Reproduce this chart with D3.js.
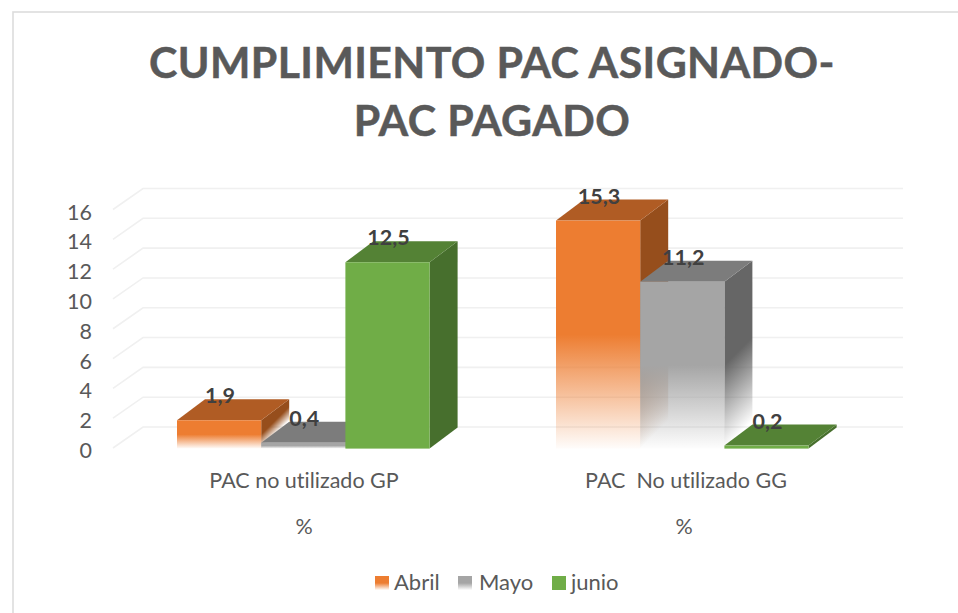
<!DOCTYPE html>
<html><head><meta charset="utf-8">
<script src="https://cdn.jsdelivr.net/npm/d3@7"></script>
<style>html,body{margin:0;padding:0;background:#fff}svg{display:block}text{font-family:Lato,"Open Sans",sans-serif;font-variant-ligatures:none}</style>
</head><body><svg id="c" width="958" height="613"></svg>
<script>
const titleLines = ["CUMPLIMIENTO PAC ASIGNADO-", "PAC PAGADO"];
const categories = ["PAC no utilizado GP", "PAC  No utilizado GG"];
const subLabels = ["%", "%"];
const seriesNames = ["Abril", "Mayo", "junio"];
const abril = [1.9, 15.3];
const mayo = [0.4, 11.2];
const junio = [12.5, 0.2];
const labels = [["1,9", "15,3"], ["0,4", "11,2"], ["12,5", "0,2"]];
const ticks = [0, 2, 4, 6, 8, 10, 12, 14, 16];
const colors = {front: ["#ed7d31", "#a5a5a5", "#70ad47"], top: ["#b05c24", "#7c7c7c", "#548235"], side: ["#964e1c", "#666666", "#476f2d"]};
const series = [abril, mayo, junio];

const dx = 28, dy = -21;
const svg = d3.select("#c");
const defs = svg.append("defs");
const y = d3.scaleLinear().domain([0, 16]).range([448.6, 210.1]);
const groupX = c => c === categories[0] ? 177 : 556;
const barW = 84.2;

svg.append("rect").attr("x", 13).attr("y", 12).attr("width", 990).attr("height", 640).attr("fill", "none").attr("stroke", "#dcdcdc").attr("stroke-width", 1.6);

colors.front.forEach((col, i) => {
  if (i === 2) return;
  const gf = defs.append("linearGradient").attr("id", "f" + i).attr("x1", 0).attr("y1", 0).attr("x2", 0).attr("y2", 1);
  gf.append("stop").attr("offset", "50%").attr("stop-color", col);
  gf.append("stop").attr("offset", "100%").attr("stop-color", col).attr("stop-opacity", 0.02);
});

// gridlines
const grid = svg.append("g");
ticks.forEach(t => {
  const py = y(t);
  grid.append("path").attr("d", d3.line()([[113, py - 0.6], [113 + 30, py - 0.6 + dy], [903, py - 0.6 + dy]]))
    .attr("fill", "none").attr("stroke", "#f0f0f0").attr("stroke-width", 1.6);
});
svg.append("g").selectAll("text").data(ticks).join("text")
  .attr("x", 92).attr("y", d => y(d) + 9.4).attr("text-anchor", "end")
  .attr("font-size", 21.5).attr("fill", "#595959").text(d => d);

// bars
const marks = svg.append("g");
categories.forEach((c, ci) => {
  series.forEach((vals, si) => {
    const x0 = groupX(c) + si * barW, x1 = x0 + barW, yb = y(0), yt = y(vals[ci]);
    const g = marks.append("g");
    const poly = pts => d3.line()(pts) + "Z";
    let sideFill = colors.side[si];
    if (si !== 2) {
      const id = `side${ci}${si}`, h = yb - yt, L = h * 0.5, ys = yt + h * 0.5;
      const gs = defs.append("linearGradient").attr("id", id).attr("gradientUnits", "userSpaceOnUse")
        .attr("x1", x1).attr("y1", ys).attr("x2", x1 + L / 2).attr("y2", ys + L / 2);
      gs.append("stop").attr("offset", "0%").attr("stop-color", colors.side[si]);
      gs.append("stop").attr("offset", "100%").attr("stop-color", colors.side[si]).attr("stop-opacity", 0);
      sideFill = `url(#${id})`;
    }
    g.append("path").attr("d", poly([[x1, yb], [x1, yt], [x1 + dx, yt + dy], [x1 + dx, yb + dy]])).attr("fill", sideFill);
    g.append("path").attr("d", poly([[x0, yt], [x1, yt], [x1 + dx, yt + dy], [x0 + dx, yt + dy]])).attr("fill", colors.top[si]);
    g.append("rect").attr("x", x0).attr("y", yt).attr("width", barW).attr("height", yb - yt)
      .attr("fill", si === 2 ? colors.front[2] : `url(#f${si})`);
  });
});

// data labels
categories.forEach((c, ci) => {
  series.forEach((vals, si) => {
    const x0 = groupX(c) + si * barW;
    svg.append("text").attr("x", x0 + barW / 2 + 1).attr("y", y(vals[ci]) + dy + 4)
      .attr("text-anchor", "middle").attr("font-size", 21.5).attr("font-weight", 700)
      .attr("fill", "#404040").text(labels[si][ci]);
  });
});

// category labels
const catX = [304, 686], subX = [304, 684];
categories.forEach((c, i) => {
  svg.append("text").attr("x", catX[i]).attr("y", 488).attr("text-anchor", "middle")
    .attr("font-size", 21.5).attr("fill", "#595959").style("white-space", "pre").text(c);
  svg.append("text").attr("x", subX[i]).attr("y", 534).attr("text-anchor", "middle")
    .attr("font-size", 21.5).attr("fill", "#595959").text(subLabels[i]);
});

// title
titleLines.forEach((t, i) => {
  svg.append("text").attr("x", 492).attr("y", 78 + i * 58).attr("text-anchor", "middle")
    .attr("font-size", 42.8).attr("font-weight", 700).attr("letter-spacing", 0.4)
    .attr("stroke", "#595959").attr("stroke-width", 0.5).attr("fill", "#595959").text(t);
});

// legend
const legX = [375, 458, 552], legTextX = [394, 479, 571];
seriesNames.forEach((n, i) => {
  svg.append("rect").attr("x", legX[i]).attr("y", 576).attr("width", 14).attr("height", 14)
    .attr("fill", i === 2 ? colors.front[2] : `url(#f${i})`);
  svg.append("text").attr("x", legTextX[i]).attr("y", 590).attr("font-size", 22).attr("fill", "#595959").text(n);
});
</script></body></html>
